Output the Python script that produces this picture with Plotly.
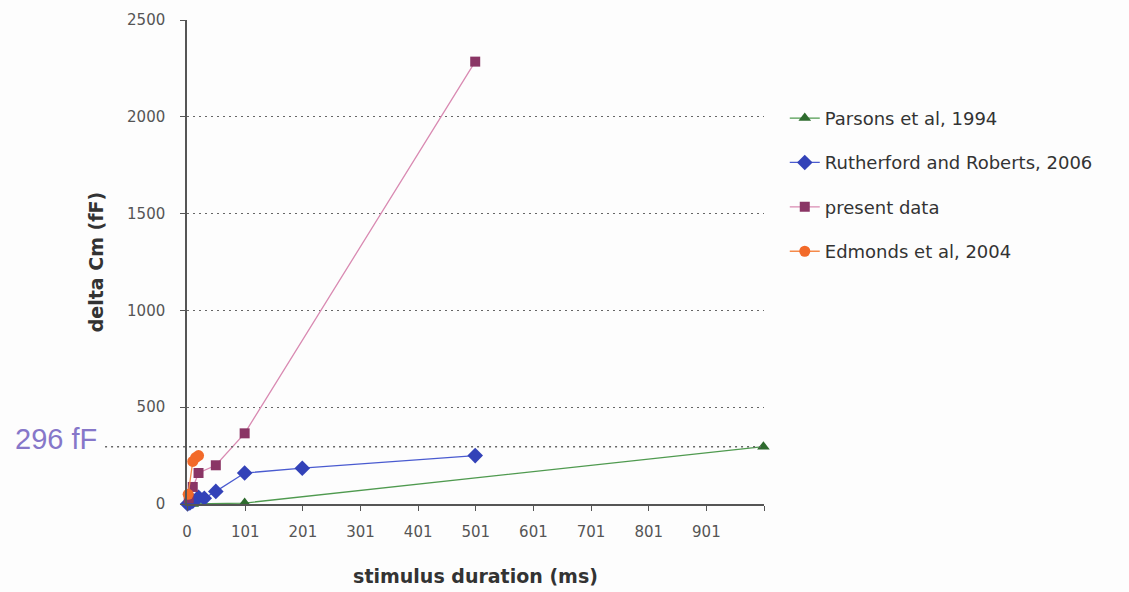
import plotly.graph_objects as go

# Stimulus duration (ms) vs capacitance change (fF) for each study
parsons_x = [10, 100, 1000]
parsons_y = [0, 5, 296]

rutherford_x = [1, 5, 10, 20, 30, 50, 100, 200, 500]
rutherford_y = [0, 5, 15, 35, 30, 65, 160, 185, 250]

present_x = [3, 10, 20, 50, 100, 500]
present_y = [30, 88, 160, 200, 365, 2285]

edmonds_x = [2, 10, 15, 20]
edmonds_y = [50, 220, 240, 250]

x_tickvals = [0, 101, 201, 301, 401, 501, 601, 701, 801, 901, 1001]
x_ticktext = ["0", "101", "201", "301", "401", "501", "601", "701", "801", "901", ""]
y_tickvals = [0, 500, 1000, 1500, 2000, 2500]

ref_level = 296

FONT = "DejaVu Sans, Arial, sans-serif"
LABEL_FONT = "Arial, Liberation Sans, sans-serif"

fig = go.Figure()

series = [
    ("Parsons et al, 1994", parsons_x, parsons_y, "#4f9a4f", "#2e6b2e", "triangle-up", 11),
    ("Rutherford and Roberts, 2006", rutherford_x, rutherford_y, "#4a5bd0", "#3342b8", "diamond", 12),
    ("present data", present_x, present_y, "#d98ab2", "#8a3565", "square", 10),
    ("Edmonds et al, 2004", edmonds_x, edmonds_y, "#f58a4a", "#f26a2a", "circle", 11),
]

for name, xs, ys, lc, mc, sym, sz in series:
    fig.add_trace(go.Scatter(
        x=xs, y=ys, name=name, mode="lines+markers",
        line=dict(color=lc, width=1.3),
        marker=dict(color=mc, symbol=sym, size=sz, line=dict(width=0)),
        legendgroup=name, cliponaxis=False,
    ))

# Dotted reference level extending out to its label
fig.add_shape(type="line", xref="paper", yref="y",
              x0=-0.142, x1=1.0, y0=ref_level, y1=ref_level,
              line=dict(color="#666666", width=1.5, dash="2px,4px"))
fig.add_annotation(xref="paper", yref="y", x=-0.153, y=ref_level,
                   text="296 fF", showarrow=False, xanchor="right", yanchor="middle",
                   yshift=8, font=dict(family=LABEL_FONT, size=29, color="#8677c9"))

fig.update_xaxes(
    range=[0, 1001], tickvals=x_tickvals, ticktext=x_ticktext,
    showgrid=False, zeroline=False, automargin=False,
    showline=True, linecolor="#555555", linewidth=1.5,
    ticks="outside", ticklen=5, tickcolor="#555555", ticklabelstandoff=8,
    tickfont=dict(family=FONT, size=15, color="#555555"),
    title=dict(text="<b>stimulus duration (ms)</b>", standoff=30,
               font=dict(family=FONT, size=19, color="#333333")),
)
fig.update_yaxes(
    range=[0, 2500], tickvals=y_tickvals,
    showgrid=True, gridcolor="#666666", griddash="2px,4px", gridwidth=1.3,
    zeroline=False, automargin=False,
    showline=True, linecolor="#555555", linewidth=1.5,
    ticks="outside", ticklen=5, tickcolor="#555555", ticklabelstandoff=12,
    tickfont=dict(family=FONT, size=15, color="#555555"),
    title=dict(text="<b>delta Cm (fF)</b>", standoff=18,
               font=dict(family=FONT, size=19, color="#333333")),
)

fig.update_layout(
    width=1129, height=592,
    margin=dict(l=187, r=365, t=20, b=88),
    paper_bgcolor="#fdfdfd", plot_bgcolor="#fdfdfd",
    font=dict(family=FONT),
    legend=dict(
        x=1.036, y=0.835, xanchor="left", yanchor="top",
        tracegroupgap=18, itemwidth=30,
        font=dict(family=FONT, size=18, color="#333333"),
        bgcolor="rgba(0,0,0,0)",
    ),
)

fig.write_html("out.html")
